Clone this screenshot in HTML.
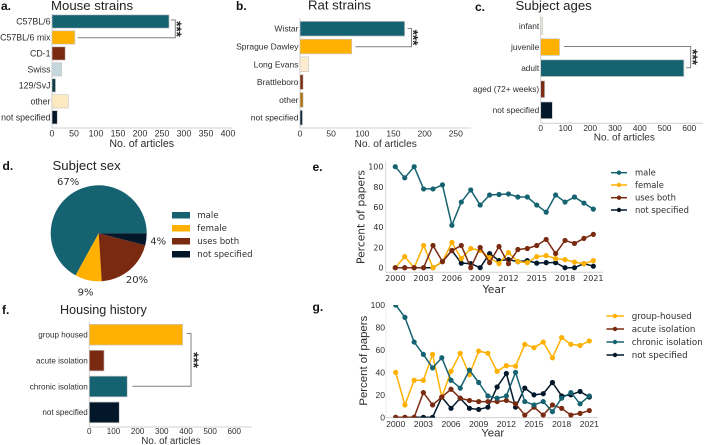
<!DOCTYPE html>
<html lang="en">
<head>
<meta charset="utf-8">
<title>Rodent study review figure</title>
<style>
html,body{margin:0;padding:0;background:#fff;width:708px;height:445px;overflow:hidden}
svg{display:block;filter:blur(.3px)}
text{font-family:"Liberation Sans",sans-serif;fill:#2e2e2e}
.dj text,text.dj{font-family:"DejaVu Sans",sans-serif}
.ttl{font-size:13.2px;fill:#222}
.let{font-size:12px;font-weight:bold;fill:#111}
.br{fill:none;stroke:#808080;stroke-width:1}
.st{font-size:13.5px;font-weight:bold;fill:#222}
</style>
</head>
<body>
<svg id="fig" width="708" height="445" viewBox="0 0 708 445" xmlns="http://www.w3.org/2000/svg">
  <rect width="708" height="445" fill="#fff"/>
  <defs>
    <clipPath id="g-plot-clip"><rect x="386" y="305" width="212" height="112.6"/></clipPath>
  </defs>

  <text class="let" x="1" y="10">a.</text>
  <text class="let" x="236" y="10">b.</text>
  <text class="let" x="475" y="11">c.</text>
  <text class="let" x="2.5" y="170">d.</text>
  <text class="let" x="312.5" y="171">e.</text>
  <text class="let" x="2" y="314">f.</text>
  <text class="let" x="312.5" y="311">g.</text>

  <text class="ttl" x="51" y="10">Mouse strains</text>
  <text class="ttl" x="308" y="9.5">Rat strains</text>
  <text class="ttl" x="515.5" y="10">Subject ages</text>
  <text class="ttl" x="52.5" y="170">Subject sex</text>
  <text class="ttl" style="font-size:12.6px" x="60" y="314">Housing history</text>

  <g id="a"></g>
  <g id="b"></g>
  <g id="c"></g>
  <g id="d" class="dj"></g>
  <g id="e" class="dj"></g>
  <g id="f"></g>
  <g id="g"></g>

  <path class="br" d="M171 20H175.3V37.7H77.7"/>
  <text class="st" transform="translate(172 29) rotate(90)" text-anchor="middle">***</text>
  <path class="br" d="M407.5 28.5H411.5V46.7H355.5"/>
  <text class="st" transform="translate(408.5 37.5) rotate(90)" text-anchor="middle">***</text>
  <path class="br" d="M564 46.5H690.7V67.7H686"/>
  <text class="st" transform="translate(688 57) rotate(90)" text-anchor="middle">***</text>
  <path class="br" d="M186.7 333.5H191V386.3H132.3"/>
  <text class="st" transform="translate(189 360) rotate(90)" text-anchor="middle">***</text>

  <g class="dj" font-size="8.6">
    <rect x="172" y="212" width="18" height="6.5" fill="#156270"/>
    <text x="197.3" y="218" font-size="8.6">male</text>
    <rect x="172" y="225" width="18" height="6.5" fill="#FFB000"/>
    <text x="197.3" y="231" font-size="8.6">female</text>
    <rect x="172" y="238" width="18" height="6.5" fill="#7A2A10"/>
    <text x="197.3" y="244" font-size="8.6">uses both</text>
    <rect x="172" y="251" width="18" height="6.5" fill="#02182A"/>
    <text x="197.3" y="257" font-size="8.6">not specified</text>
  </g>

  <g class="dj" stroke-width="1.5">
    <path d="M611 172.7H627" stroke="#156270"/>
    <circle cx="619" cy="172.7" r="2.2" fill="#156270"/>
    <text x="635" y="175.7" font-size="8.4">male</text>
    <path d="M611 185H627" stroke="#FFB000"/>
    <circle cx="619" cy="185" r="2.2" fill="#FFB000"/>
    <text x="635" y="188" font-size="8.4">female</text>
    <path d="M611 197.7H627" stroke="#7A2A10"/>
    <circle cx="619" cy="197.7" r="2.2" fill="#7A2A10"/>
    <text x="635" y="200.7" font-size="8.4">uses both</text>
    <path d="M611 210H627" stroke="#02182A"/>
    <circle cx="619" cy="210" r="2.2" fill="#02182A"/>
    <text x="635" y="213" font-size="8.4">not specified</text>
  </g>

  <g class="dj" stroke-width="1.5">
    <path d="M606.5 316H624" stroke="#FFB000"/>
    <circle cx="615" cy="316" r="2.2" fill="#FFB000"/>
    <text x="631.7" y="319" font-size="8.7">group-housed</text>
    <path d="M606.5 329H624" stroke="#7A2A10"/>
    <circle cx="615" cy="329" r="2.2" fill="#7A2A10"/>
    <text x="631.7" y="332" font-size="8.7">acute isolation</text>
    <path d="M606.5 342H624" stroke="#156270"/>
    <circle cx="615" cy="342" r="2.2" fill="#156270"/>
    <text x="631.7" y="345" font-size="8.7">chronic isolation</text>
    <path d="M606.5 355H624" stroke="#02182A"/>
    <circle cx="615" cy="355" r="2.2" fill="#02182A"/>
    <text x="631.7" y="358" font-size="8.7">not specified</text>
  </g>
</svg>

<script>
const TEAL = '#156270', AMBER = '#FFB000', BROWN = '#7A2A10', NAVY = '#02182A';

const mouseCategories = ['C57BL/6', 'C57BL/6 mix', 'CD-1', 'Swiss', '129/SvJ', 'other', 'not specified'];
const mouseValues = [266, 52, 30, 22, 8, 37, 12];
const mouseColors = [TEAL, AMBER, BROWN, '#C5D6DC', '#0F3D45', '#FDE9C0', NAVY];
const mouseTicks = [0, 50, 100, 150, 200, 250, 300, 350, 400];

const ratCategories = ['Wistar', 'Sprague Dawley', 'Long Evans', 'Brattleboro', 'other', 'not specified'];
const ratValues = [168, 83, 14, 5, 5, 4];
const ratColors = [TEAL, AMBER, '#FDEBD0', BROWN, '#A8720F', '#10263A'];
const ratTicks = [0, 50, 100, 150, 200, 250];

const ageCategories = ['infant', 'juvenile', 'adult', 'aged (72+ weeks)', 'not specified'];
const ageValues = [8, 76, 578, 16, 47];
const ageColors = ['#EEE8DC', AMBER, TEAL, BROWN, NAVY];
const ageTicks = [0, 100, 200, 300, 400, 500, 600];

const housingCategories = ['group housed', 'acute isolation', 'chronic isolation', 'not specified'];
const housingValues = [386, 61, 157, 124];
const housingColors = [AMBER, BROWN, TEAL, NAVY];
const housingTicks = [0, 100, 200, 300, 400, 500, 600];

const sexLabels = ['male', 'female', 'uses both', 'not specified'];
const sexValues = [67, 9, 20, 4];
const sexColors = [TEAL, AMBER, BROWN, NAVY];

const years = [2000,2001,2002,2003,2004,2005,2006,2007,2008,2009,2010,2011,2012,2013,2014,2015,2016,2017,2018,2019,2020,2021];
const yearTicks = [2000, 2003, 2006, 2009, 2012, 2015, 2018, 2021];
const percentTicks = [0, 20, 40, 60, 80, 100];

const maleSeries = [100,89,100,78,78,82,42,65,77,62,72,72.5,73,70,70,62,55,72,65,70,64,58];
const femaleSeries = [0,11,0,22,0,6,25,9,19,17,10,4,15,6,5,11,12,9,8,5.5,4,7];
const bothSeries = [0,0,0,0,22,6,17,22,0,20,5,21,4,18,19,22,28,14,27,24,29,33];
const sexNotSpecifiedSeries = [0,0,0,0,0,6,17,4.5,4,0,14,7,8,6,7,4.5,5,5,0,0,4,1.5];

const groupSeries = [40,11,33,33,56,18,41,57,38,59,57,41,46,45.5,65,62,67,53,71,65,64,68];
const acuteSeries = [0,0,0,22,11,18,25,17,15,14,14,14,15,12,2,9,2,11,8,2,3.5,6];
const chronicSeries = [100,89,67,56,44,53,33,26,42,31,19,17,19,40,14,11,14,5,17,22,12,19];
const housingNotSpecifiedSeries = [0,0,0,0,0,18,8,17,8,7,9,27,39,9,26,20,21,31,19,20,23,18];

const NS = 'http://www.w3.org/2000/svg';
function mk(parent, tag, attrs, txt) {
  const n = document.createElementNS(NS, tag);
  for (const k in attrs) n.setAttribute(k, attrs[k]);
  if (txt !== undefined) n.textContent = txt;
  parent.appendChild(n);
  return n;
}
function slug(s) {
  return String(s).toLowerCase().replace(/[^a-z0-9]+/g, '-').replace(/^-|-$/g, '');
}

function barChart(id, cats, vals, cols, ticks, o) {
  const g = document.getElementById(id);
  const x = v => o.x0 + v * o.sx;
  const y = i => o.y0 + i * o.step;

  const sx = mk(g, 'path', {d: `M${o.x0} ${o.top}V${o.axisY}`, stroke: '#d0d0d0', 'stroke-width': 1, fill: 'none'});
  
  
  const sb = mk(g, 'path', {d: `M${o.x0} ${o.axisY}H${o.axisEnd}`, stroke: '#d0d0d0', 'stroke-width': 1, fill: 'none'});
  
  

  cats.forEach((c, i) => {
    const b = mk(g, 'rect', {x: x(0), y: y(i) - o.h / 2, width: Math.max(0, x(vals[i]) - x(0)), height: o.h, fill: cols[i], stroke: '#c9c9c9', 'stroke-width': 0.7});
    
    
    const t = mk(g, 'text', {x: o.x0 - 1.5, y: y(i) + o.fs * 0.35, 'text-anchor': 'end', 'font-size': o.fs}, c);
    
    
  });
  ticks.forEach(v => {
    const t = mk(g, 'text', {x: x(v), y: o.tickY, 'text-anchor': 'middle', 'font-size': o.fs}, v);
    
    
  });
  const xl = mk(g, 'text', {x: o.labelX, y: o.labelY, 'text-anchor': 'middle', 'font-size': o.lfs}, 'No. of articles');
  
  
}

barChart('a', mouseCategories, mouseValues, mouseColors, mouseTicks,
  {x0: 52, sx: 0.44, y0: 21.5, step: 15.97, h: 13.3, top: 14, axisY: 128, axisEnd: 232, fs: 8.8, lfs: 10.6, tickY: 136.5, labelX: 141.7, labelY: 147});
barChart('b', ratCategories, ratValues, ratColors, ratTicks,
  {x0: 300, sx: 0.623, y0: 28.7, step: 17.8, h: 14.7, top: 18, axisY: 128, axisEnd: 471, fs: 8.5, lfs: 10.2, tickY: 136.5, labelX: 385.7, labelY: 147});
barChart('c', ageCategories, ageValues, ageColors, ageTicks,
  {x0: 540.7, sx: 0.2477, y0: 26, step: 21.08, h: 16.7, top: 15, axisY: 123.3, axisEnd: 703, fs: 8.3, lfs: 10, tickY: 131, labelX: 624.3, labelY: 140.5});
barChart('f', housingCategories, housingValues, housingColors, housingTicks,
  {x0: 89.3, sx: 0.2417, y0: 334.7, step: 25.9, h: 20.7, top: 322, axisY: 427, axisEnd: 252.3, fs: 8.1, lfs: 9.7, tickY: 434, labelX: 171, labelY: 444});

(function pie() {
  const g = document.getElementById('d');
  const cx = 98.7, cy = 233.3, r = 48, lr = 60;
  const total = sexValues.reduce((a, b) => a + b, 0);
  let cum = 0;
  sexValues.forEach((v, i) => {
    const a0 = cum / total * 2 * Math.PI;
    cum += v;
    const a1 = cum / total * 2 * Math.PI;
    const mid = (a0 + a1) / 2;
    const large = a1 - a0 > Math.PI ? 1 : 0;
    const d = `M${cx} ${cy}L${cx + r * Math.cos(a0)} ${cy - r * Math.sin(a0)}A${r} ${r} 0 ${large} 0 ${cx + r * Math.cos(a1)} ${cy - r * Math.sin(a1)}Z`;
    const s = mk(g, 'path', {d: d, fill: sexColors[i]});
    
    
    const t = mk(g, 'text', {x: cx + lr * Math.cos(mid), y: cy - lr * Math.sin(mid) + 3.5, 'text-anchor': 'middle', 'font-size': 10}, v + '%');
    
    
  });
})();

function lineChart(id, seriesList, colorList, nameList, o) {
  const g = document.getElementById(id);
  const x = yr => o.x0 + (yr - 2000) * o.sx;
  const y = v => o.y0 - v * o.sy;

  const l = mk(g, 'path', {d: `M${o.spineX} ${o.spineTop}V${o.axisY}`, stroke: o.spineColor, 'stroke-width': 1, fill: 'none'});
  
  
  const b = mk(g, 'path', {d: `M${o.spineX} ${o.axisY}H${o.axisEnd}`, stroke: '#d0d0d0', 'stroke-width': 1, fill: 'none'});
  
  

  yearTicks.forEach(v => {
    const t = mk(g, 'text', {x: x(v), y: o.tickY, 'text-anchor': 'middle', 'font-size': o.fs}, v);
    
    
  });
  percentTicks.forEach(v => {
    const t = mk(g, 'text', {x: o.ylabRight, y: y(v) + o.fs * 0.36, 'text-anchor': 'end', 'font-size': o.fs}, v);
    
    
  });
  const xl = mk(g, 'text', {x: o.xlX, y: o.xlY, 'text-anchor': 'middle', 'font-size': o.lfs}, 'Year');
  
  
  const yl = mk(g, 'text', {transform: `translate(${o.ylX} ${o.ylY}) rotate(-90)`, 'text-anchor': 'middle', 'font-size': o.lfs}, 'Percent of papers');
  
  

  const plot = mk(g, 'g', o.clip ? {'clip-path': o.clip} : {});
  
  

  seriesList.forEach((vals, si) => {
    const pts = vals.map((v, i) => x(years[i]).toFixed(2) + ',' + y(v).toFixed(2)).join(' ');
    const line = mk(plot, 'polyline', {points: pts, fill: 'none', stroke: colorList[si], 'stroke-width': 1.5, 'stroke-linejoin': 'round'});
    
    
    vals.forEach((v, i) => {
      const c = mk(plot, 'circle', {cx: x(years[i]), cy: y(v), r: 2.6, fill: colorList[si]});
      
      
    });
  });
}

lineChart('e',
  [sexNotSpecifiedSeries, maleSeries, femaleSeries, bothSeries],
  [NAVY, TEAL, AMBER, BROWN],
  ['not-specified', 'male', 'female', 'uses-both'],
  {x0: 395.3, sx: 9.43, y0: 267.7, sy: 1.01, spineX: 385.7, spineTop: 161.5, spineColor: '#d8d8d8', axisY: 272.3, axisEnd: 603, fs: 8, lfs: 10.7, tickY: 281, ylabRight: 383.5, xlX: 494, xlY: 293, ylX: 364.5, ylY: 217});

lineChart('g',
  [housingNotSpecifiedSeries, groupSeries, acuteSeries, chronicSeries],
  [NAVY, AMBER, BROWN, TEAL],
  ['not-specified', 'group-housed', 'acute-isolation', 'chronic-isolation'],
  {x0: 395.7, sx: 9.22, y0: 417.3, sy: 1.123, spineX: 386, spineTop: 300, spineColor: '#ececec', axisY: 417.6, axisEnd: 598, fs: 8.6, lfs: 11.4, tickY: 426.8, ylabRight: 385, xlX: 492.7, xlY: 436.3, ylX: 367, ylY: 360.7, clip: 'url(#g-plot-clip)'});
</script>
</body>
</html>
